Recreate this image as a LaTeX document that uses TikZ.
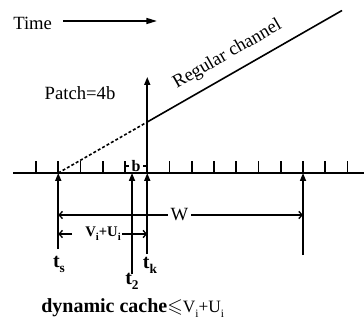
\documentclass[tikz,border=0pt]{standalone}
\usepackage{amssymb}
\usepackage{fontspec}
\setmainfont{Liberation Serif}
\newfontfamily\tms{Liberation Serif}
\usetikzlibrary{arrows.meta}
\newcommand{\lowidx}[2][10]{\raisebox{-0.25em}{\fontsize{#1}{#1}\selectfont #2}}

\begin{document}
\begin{tikzpicture}[x=0.75pt, y=-0.75pt,
  lbl/.style={inner sep=0pt, font=\tms\fontsize{14}{16}\selectfont},
  tlbl/.style={inner sep=0pt, font=\tms\fontsize{15}{17}\selectfont\bfseries},
  vlbl/.style={inner sep=0pt, font=\tms\fontsize{11}{13}\selectfont\bfseries},
  ln/.style={line width=1.2pt},
  uparr/.style={ln, -{Triangle[length=6pt, width=4.5pt]}},
  dimarr/.style={line width=1pt, -{Straight Barb[length=2.5pt, width=5.5pt]}}]
\useasboundingbox (0,0) rectangle (364,324);

% time direction
\node[lbl, anchor=west] (time) at (13,23) {Time};
\coordinate (tStart) at (63,21);
\coordinate (tEnd) at (157,21);
\draw[ln, -{Triangle[length=8pt, width=4.5pt]}] (tStart) -- (tEnd);

% time axis and slots
\coordinate (a0) at (13,173);
\coordinate (a1) at (364,173);
\draw[line width=1.8pt] (a0) -- (a1);
\foreach \i in {0,...,14}
  \coordinate (k\i) at ({36+22.25*\i},173);
\foreach \i in {0,...,14}
  \draw[ln] (k\i) -- ++(0,-12);

% slot length b
\node[inner sep=2pt, font=\tms\fontsize{12}{14}\selectfont\bfseries] (b) at (136,166) {b};
\draw[line width=0.8pt] (k4 |- b) -- (b.west);
\draw[line width=0.8pt] (b.east) -- (k5 |- b);

% regular channel
\coordinate (P) at (147.25,122);
\coordinate (cEnd) at (342,10.5);
\draw[ln, dash pattern=on 2.2pt off 1.6pt] (k1) -- (P);
\draw[ln] (P) -- node[lbl, sloped, above=7pt, pos=0.46] (reg) {Regular channel} (cEnd);

% patch
\coordinate (tkTop) at (147.25,77);
\draw[uparr] (k5) -- (tkTop);
\node[lbl] (patch) at (80,93) {Patch=4b};

% request instants
\coordinate (ts) at (58.25,249);
\coordinate (t2) at (132,274);
\coordinate (tk) at (147.25,254);
\coordinate (tw) at (303,255);
\draw[uparr] (ts) -- (k1);
\draw[uparr] (t2) -- (t2 |- k1);
\draw[uparr] (tk) -- (k5);
\draw[uparr] (tw) -- (k12);
\node[tlbl] (tsL) at (59,264) {t\lowidx{s}};
\node[tlbl] (t2L) at (132,281) {t\lowidx{2}};
\node[tlbl] (tkL) at (150,265) {t\lowidx{k}};

% window W
\node[lbl, inner sep=2pt] (W) at (179.5,215) {W};
\draw[dimarr] (W.west) -- (ts |- W);
\draw[dimarr] (W.east) -- (tw |- W);

% V_i+U_i
\node[vlbl] (vu) at (103,234) {V\lowidx[8]{i}+U\lowidx[8]{i}};
\coordinate (vuL) at (72,234);
\draw[dimarr] (vuL) -- (ts |- vu);
\draw[dimarr] ([xshift=1pt]vu.east) -- (tk |- vu);

% cache bound
\node[anchor=west, inner sep=0pt, font=\tms\fontsize{15}{17}\selectfont] (cache) at (41,308)
  {\bfseries dynamic cache$\leqslant$\mdseries\fontsize{13}{15}\selectfont V\lowidx[8.5]{i}+U\lowidx[8.5]{i}};
\end{tikzpicture}
\end{document}
